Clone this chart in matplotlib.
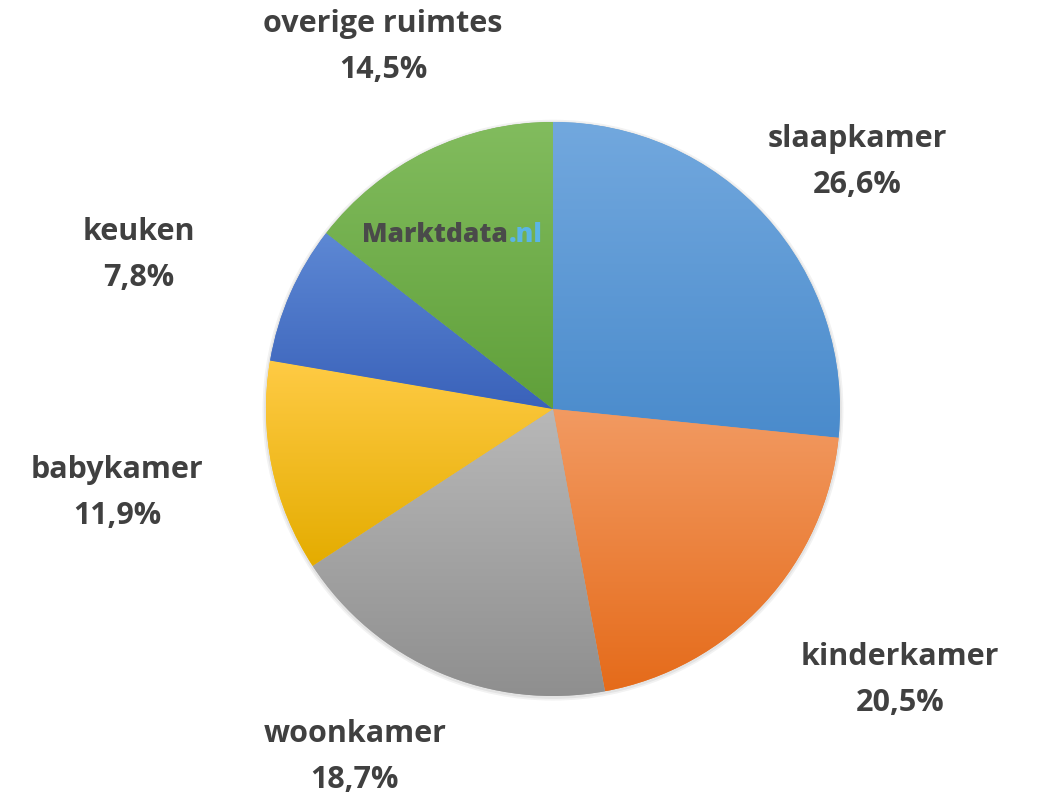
import matplotlib
matplotlib.use("Agg")
import matplotlib.pyplot as plt
import numpy as np
from matplotlib.colors import LinearSegmentedColormap

categories = ["slaapkamer", "kinderkamer", "woonkamer", "babykamer", "keuken", "overige ruimtes"]
values = [26.6, 20.5, 18.7, 11.9, 7.8, 14.5]
value_labels = ["26,6%", "20,5%", "18,7%", "11,9%", "7,8%", "14,5%"]

top_colors = ["#72A8DE", "#F29A62", "#B8B8B8", "#FFCB45", "#5D88D4", "#82BC5E"]
bottom_colors = ["#4A8BCC", "#E56B1A", "#8E8E8E", "#E4AC00", "#3A62BA", "#60A03A"]
base_colors = ["#5B9BD5", "#ED7D31", "#A5A5A5", "#FFC000", "#4472C4", "#70AD47"]
label_pos = [(1.059, 0.861), (1.209, -0.944), (-0.690, -1.213),
             (-1.519, -0.293), (-1.443, 0.537), (-0.592, 1.261)]

W, H = 1064, 806
fig = plt.figure(figsize=(W / 100, H / 100), dpi=100)
ax = fig.add_axes([0, 0, 1, 1])
cx, cy, R = 553, 409, 287

wedges, _ = ax.pie(values, startangle=90, counterclock=False, colors=base_colors,
                   radius=1.0, center=(0, 0), frame=True,
                   wedgeprops=dict(linewidth=0))
ax.set_xlim(-cx / R, (W - cx) / R)
ax.set_ylim(-(H - cy) / R, cy / R)
ax.set_aspect("auto")
ax.axis("off")

# soft glow/shadow
for r, a in [(1.012, 0.05), (1.006, 0.06)]:
    ax.add_patch(plt.Circle((0.0, -0.004), r, color="#000000", alpha=a, zorder=0, lw=0))

grad = np.linspace(0, 1, 256).reshape(-1, 1)
for w, tc, bc in zip(wedges, top_colors, bottom_colors):
    path = w.get_path().transformed(w.get_patch_transform())
    verts = path.vertices
    x0, x1 = verts[:, 0].min(), verts[:, 0].max()
    y0, y1 = verts[:, 1].min(), verts[:, 1].max()
    cmap = LinearSegmentedColormap.from_list("g", [tc, bc])
    im = ax.imshow(grad, cmap=cmap, extent=(x0, x1, y0, y1), origin="upper",
                   aspect="auto", zorder=2, interpolation="bilinear")
    im.set_clip_path(w)

fp = dict(family=["Open Sans", "DejaVu Sans"], fontweight="bold", fontsize=22, color="#404040")
for cat, lab, (x, y) in zip(categories, value_labels, label_pos):
    ax.text(x, y, cat + "\n" + lab, ha="center", va="center", linespacing=1.7, zorder=5, **fp)

# watermark
wm = dict(family=["Open Sans", "DejaVu Sans"], fontweight="heavy", fontsize=19, zorder=6)
t1 = ax.text(-0.666, 0.608, "Marktdata", ha="left", va="center", color="#4A4A4A", **wm)
ax.annotate(".nl", xy=(1.0, 0.5), xycoords=t1, xytext=(1, 0), textcoords="offset points",
            ha="left", va="center", color="#5BB5E5", **wm)

fig.savefig("out.png", dpi=100)
